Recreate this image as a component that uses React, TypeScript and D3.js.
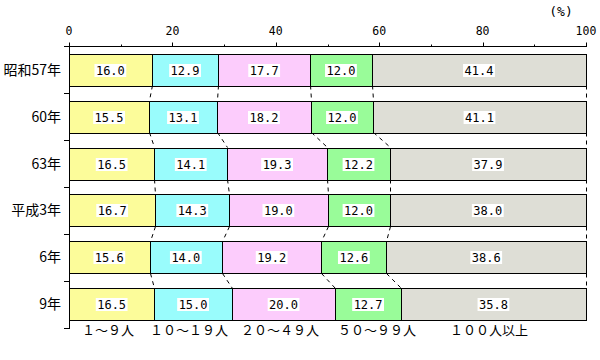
import React from "react";
import * as d3 from "d3";

const categories = ["昭和57年", "60年", "63年", "平成3年", "6年", "9年"];
const seriesNames = ["１～９人", "１０～１９人", "２０～４９人", "５０～９９人", "１００人以上"];
const s1 = [16.0, 15.5, 16.5, 16.7, 15.6, 16.5];
const s2 = [12.9, 13.1, 14.1, 14.3, 14.0, 15.0];
const s3 = [17.7, 18.2, 19.3, 19.0, 19.2, 20.0];
const s4 = [12.0, 12.0, 12.2, 12.0, 12.6, 12.7];
const s5 = [41.4, 41.1, 37.9, 38.0, 38.6, 35.8];
const xTicks = [0, 20, 40, 60, 80, 100];
const xMinorTicks = [10, 30, 50, 70, 90];

const colors = ["#FCFC9A", "#99FCFC", "#FCCCFC", "#99FC99", "#DEDED6"];
const legendX = [82, 150, 241, 338, 450];

export default function App() {
  const W = 600, H = 360;
  const x = d3.scaleLinear().domain([0, 100]).range([69, 586]);
  const y = d3.scaleBand<string>().domain(categories).range([46, 328]).paddingInner(0.319).paddingOuter(0.16);
  const series = [s1, s2, s3, s4, s5];
  const rows = categories.map((c, i) => {
    let cum = 0;
    const segs = series.map((s, k) => {
      const v = s[i];
      const x0 = cum;
      cum += v;
      return { k, v, x0, x1: k === series.length - 1 ? 100 : cum };
    });
    return { c, segs };
  });
  const bw = y.bandwidth();
  const step = y.step();
  const mono = "'DejaVu Sans Mono', monospace";
  const cjk = "'Noto Sans CJK JP', sans-serif";

  return (
    <svg width={W} height={H} style={{ position: "absolute", left: 0, top: 0, background: "#fff" }}>
      {/* connectors */}
      {rows.slice(0, -1).map((r, i) =>
        r.segs.map((sg, k) => {
          const nx = rows[i + 1].segs[k].x1;
          return (
            <line
              key={`c${i}-${k}`}
              x1={Math.round(x(sg.x1)) + 0.5}
              y1={(y(r.c) as number) + bw}
              x2={Math.round(x(nx)) + 0.5}
              y2={y(rows[i + 1].c) as number}
              stroke="#000"
              strokeWidth={1}
              strokeDasharray="4,4"
            />
          );
        })
      )}
      {/* bars */}
      {rows.map((r, i) =>
        r.segs.map((sg) => (
          <rect
            key={`b${i}-${sg.k}`}
            x={Math.round(x(sg.x0)) + 0.5}
            y={Math.round(y(r.c) as number) + 0.5}
            width={Math.round(x(sg.x1)) - Math.round(x(sg.x0))}
            height={Math.round(bw)}
            fill={colors[sg.k]}
            stroke="#000"
            strokeWidth={1}
          />
        ))
      )}
      {/* value labels */}
      {rows.map((r, i) =>
        r.segs.map((sg) => {
          const cx = (x(sg.x0) + x(sg.x1)) / 2;
          const cy = Math.round(y(r.c) as number) + Math.round(bw) / 2 + 0.5;
          const t = sg.v.toFixed(1);
          const tw = t.length * 7.2 + 3;
          return (
            <g key={`l${i}-${sg.k}`}>
              <rect x={cx - tw / 2} y={cy - 6.5} width={tw} height={13} fill="#fff" />
              <text x={cx} y={cy + 4.5} textAnchor="middle" fontFamily={mono} fontSize={12} fill="#000">
                {t}
              </text>
            </g>
          );
        })
      )}
      {/* top axis */}
      <line x1={69} y1={46.5} x2={587} y2={46.5} stroke="#000" />
      {xTicks.map((t) => (
        <g key={`t${t}`}>
          <line x1={Math.round(x(t)) + 0.5} y1={42.5} x2={Math.round(x(t)) + 0.5} y2={46.5} stroke="#000" />
          <text x={x(t)} y={35} textAnchor="middle" fontFamily={mono} fontSize={11.5} fill="#000">
            {t}
          </text>
        </g>
      ))}
      {xMinorTicks.map((t) => (
        <line key={`m${t}`} x1={Math.round(x(t)) + 0.5} y1={44.5} x2={Math.round(x(t)) + 0.5} y2={46.5} stroke="#000" />
      ))}
      <text x={561} y={16} textAnchor="middle" fontFamily={mono} fontSize={13} fill="#000">
        (%)
      </text>
      {/* left axis */}
      <line x1={69.5} y1={46} x2={69.5} y2={329} stroke="#000" />
      {d3.range(categories.length + 1).map((j) => {
        const yy = Math.round(46 + j * step) + 0.5;
        return <line key={`lt${j}`} x1={64} y1={yy} x2={69.5} y2={yy} stroke="#000" />;
      })}
      {categories.map((c) => (
        <text
          key={`cat${c}`}
          x={61}
          y={(y(c) as number) + bw / 2 + 5}
          textAnchor="end"
          fontFamily={cjk}
          fontSize={14}
          fill="#000"
        >
          {c}
        </text>
      ))}
      {/* legend labels */}
      {seriesNames.map((n, k) => (
        <text key={`sn${k}`} x={legendX[k]} y={335} fontFamily={cjk} fontSize={13} fill="#000">
          {n}
        </text>
      ))}
    </svg>
  );
}
